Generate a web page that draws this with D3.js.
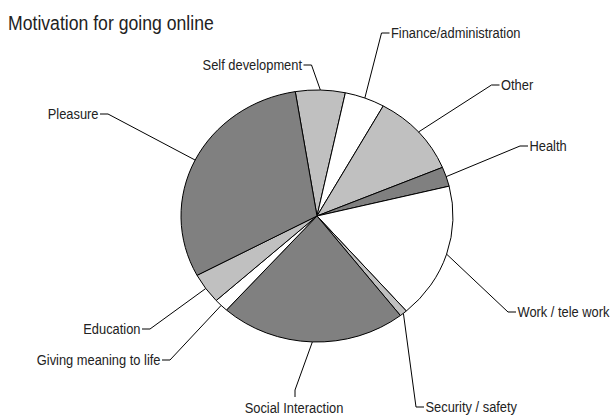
<!DOCTYPE html>
<html>
<head>
<meta charset="utf-8">
<script src="https://cdn.jsdelivr.net/npm/d3@7"></script>
<style>
  html, body { margin: 0; padding: 0; background: #fff; }
  svg { display: block; }
  text { font-family: "Liberation Sans", Arial, sans-serif; fill: #222; }
</style>
</head>
<body>
<svg id="chart" width="611" height="415"></svg>
<script>
// Motivation categories, clockwise from just left of 12 o'clock
const categories = [
  "Self development", "Finance/administration", "Other", "Health",
  "Work / tele work", "Security / safety", "Social Interaction",
  "Giving meaning to life", "Education", "Pleasure"
];
// Share of respondents (%)
const values = [5.9, 4.75, 10.6, 2.5, 17.4, 0.9, 22.1, 1.7, 3.9, 30.25];
// Slice fills
const fills = ["#c0c0c0", "#ffffff", "#c0c0c0", "#808080", "#ffffff",
               "#c0c0c0", "#808080", "#ffffff", "#c0c0c0", "#808080"];

// Label placement: elbow point of each leader line and which side the text sits on
const labelLayout = [
  { ex: 311.5, ey: 65,  side: "left"  },
  { ex: 381.5, ey: 33,  side: "right" },
  { ex: 491.5, ey: 85,  side: "right" },
  { ex: 520,   ey: 146, side: "right" },
  { ex: 508,   ey: 312, side: "right" },
  { ex: 416,   ey: 407, side: "right" },
  { ex: 295,   ey: 390, side: "below" },
  { ex: 170,   ey: 360, side: "left"  },
  { ex: 150,   ey: 329, side: "left"  },
  { ex: 108,   ey: 114, side: "left"  }
];

const svg = d3.select("#chart");
const cx = 317, cy = 216, rx = 136, ry = 126;
const startDeg = -9.2;
const narrow = 0.92;   // horizontal squeeze giving a condensed face

// Condensed text helper: squeeze horizontally around the anchor point
function narrowText(parent, x, y, str, size, anchor, squeeze) {
  return parent.append("text")
    .attr("transform", `translate(${x},${y}) scale(${squeeze},1)`)
    .attr("dy", "0.35em")
    .attr("text-anchor", anchor)
    .style("font-size", size + "px")
    .text(str);
}

svg.append("text")
  .attr("transform", "translate(8,30) scale(0.84,1)")
  .style("font-size", "21px")
  .text("Motivation for going online");

const data = categories.map((c, i) => ({ name: c, value: values[i], fill: fills[i], layout: labelLayout[i] }));

const pie = d3.pie()
  .sort(null)
  .value(d => d.value)
  .startAngle(startDeg * Math.PI / 180)
  .endAngle((startDeg + 360) * Math.PI / 180);

const arcs = pie(data);
const arc = d3.arc().innerRadius(0).outerRadius(rx);

// Pie drawn as a circle and squashed vertically into an ellipse
const pieG = svg.append("g")
  .attr("transform", `translate(${cx},${cy}) scale(1,${ry / rx})`);

pieG.selectAll("path.slice")
  .data(arcs)
  .join("path")
  .attr("class", "slice")
  .attr("d", arc)
  .attr("fill", d => d.data.fill)
  .attr("stroke", "#000")
  .attr("stroke-width", 1)
  .attr("vector-effect", "non-scaling-stroke")
  .attr("stroke-linejoin", "round");

// Leader lines and labels
const labelG = svg.append("g");
arcs.forEach(a => {
  const mid = (a.startAngle + a.endAngle) / 2;
  const px = cx + rx * Math.sin(mid);
  const py = cy - ry * Math.cos(mid);
  const L = a.data.layout;
  let pts, tx, ty, anchor;
  if (L.side === "left") {
    pts = [[px, py], [L.ex, L.ey], [L.ex - 8, L.ey]];
    tx = L.ex - 9.5; ty = L.ey; anchor = "end";
  } else if (L.side === "right") {
    pts = [[px, py], [L.ex, L.ey], [L.ex + 8, L.ey]];
    tx = L.ex + 9.5; ty = L.ey; anchor = "start";
  } else {
    pts = [[px, py], [L.ex, L.ey], [L.ex, L.ey + 7]];
    tx = L.ex - 1; ty = L.ey + 18; anchor = "middle";
  }
  labelG.append("path")
    .attr("d", d3.line()(pts))
    .attr("fill", "none")
    .attr("stroke", "#000")
    .attr("stroke-width", 1);
  narrowText(labelG, tx, ty, a.data.name, 14, anchor, narrow);
});
</script>
</body>
</html>
